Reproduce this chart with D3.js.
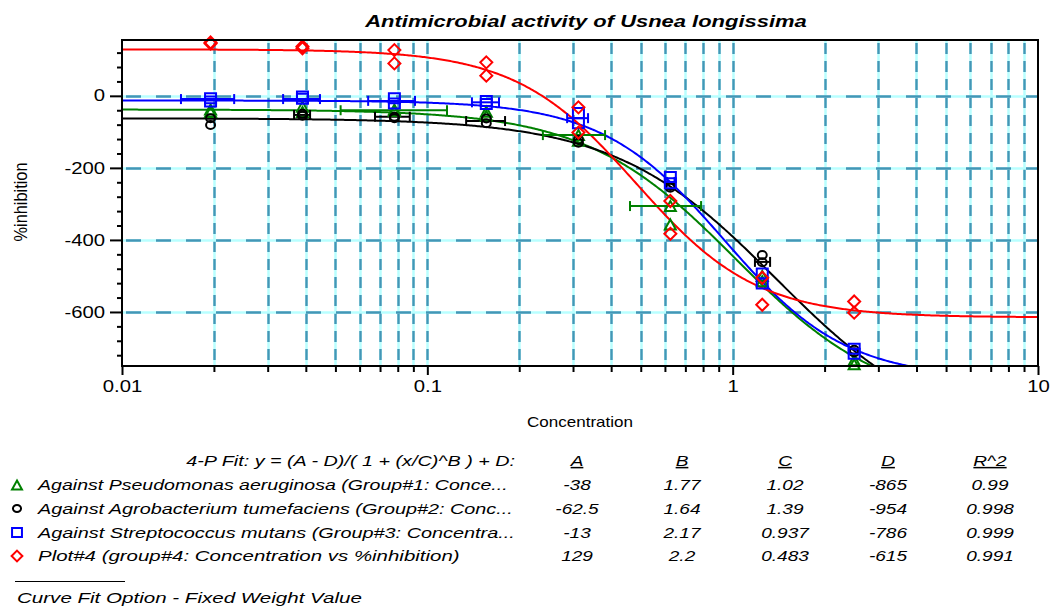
<!DOCTYPE html>
<html>
<head>
<meta charset="utf-8">
<script src="https://cdn.jsdelivr.net/npm/d3@7"></script>
<style>
  html, body { margin: 0; padding: 0; background: #fff; }
  svg { display: block; font-family: "Liberation Sans", Arial, sans-serif; }
</style>
</head>
<body>
<svg id="chart" width="1050" height="606"></svg>
<script>
// ---------------- DATA ----------------
const concentrations = [0.0195, 0.039, 0.078, 0.156, 0.3125, 0.625, 1.25, 2.5];

const seriesNames = [
  "Against Pseudomonas aeruginosa (Group#1: Conce...",
  "Against Agrobacterium tumefaciens (Group#2: Conc...",
  "Against Streptococcus mutans (Group#3: Concentra...",
  "Plot#4 (group#4: Concentration vs %inhibition)"
];
const seriesColors = ["#008000", "#000000", "#0000ff", "#ff0000"];
const seriesShapes = ["triangle", "circle", "square", "diamond"];

// replicate %inhibition readings at each concentration
const pseudomonasRep1 = [-38, -30, -38, -44, -109, -306, -500, -734];
const pseudomonasRep2 = [-45, -45, -42, -55, -125, -357, -515, -745];
const agrobacteriumRep1 = [-62, -50, -58, -63, -122, -250, -442, -705];
const agrobacteriumRep2 = [-81, -55, -62, -76, -130, -255, -462, -712];
const streptococcusRep1 = [-7, -2, -7, -14, -48, -225, -493, -702];
const streptococcusRep2 = [-16, -8, -21, -23, -76, -243, -521, -716];
const plot4Rep1 = [148, 137, 127, 93, -32, -292, -505, -571];
const plot4Rep2 = [145, 132, 90, 56, -102, -383, -580, -602];

// 4-parameter fit results
const fitA = [-38, -62.5, -13, 129];
const fitB = [1.77, 1.64, 2.17, 2.2];
const fitC = [1.02, 1.39, 0.937, 0.483];
const fitD = [-865, -954, -786, -615];
const fitR2 = [0.99, 0.998, 0.999, 0.991];
const fitALabels = ["-38", "-62.5", "-13", "129"];
const fitBLabels = ["1.77", "1.64", "2.17", "2.2"];
const fitCLabels = ["1.02", "1.39", "0.937", "0.483"];
const fitDLabels = ["-865", "-954", "-786", "-615"];
const fitR2Labels = ["0.99", "0.998", "0.999", "0.991"];
const tableHeaders = ["A", "B", "C", "D", "R^2"];

// horizontal (concentration) error bars
const xErrSeries = [2, 2, 1, 2, 1, 0, 1, 2, 2, 0, 0, 1, 2];
const xErrLow    = [0.0156, 0.0337, 0.0366, 0.064, 0.0674, 0.052, 0.134, 0.140, 0.287, 0.239, 0.461, 1.183, 0.61];
const xErrHigh   = [0.0233, 0.0445, 0.0413, 0.0911, 0.0876, 0.116, 0.1797, 0.1717, 0.336, 0.382, 0.788, 1.326, 0.645];
const xErrY      = [-9, -9, -53, -14, -58, -40, -70, -18, -62, -109, -306, -461, -239];

// axis ticks
const xMajorTicks = [0.01, 0.1, 1, 10];
const xTickLabels = ["0.01", "0.1", "1", "10"];
const yMajorTicks = [0, -200, -400, -600];
const yTickLabels = ["0", "-200", "-400", "-600"];

const titleText = "Antimicrobial activity of Usnea longissima";
const xAxisTitle = "Concentration";
const yAxisTitle = "%inhibition";
const fitHeader = "4-P Fit:  y = (A - D)/( 1 + (x/C)^B ) + D:";
const footnote = "Curve Fit Option - Fixed Weight Value";

// ---------------- LAYOUT ----------------
const L = 122, R = 1038, T = 40, B = 366;
const STRETCH = 1.27;   // glyphs in the reference are horizontally widened
const svg = d3.select("#chart");

const x = d3.scaleLog().domain([0.01, 10]).range([L, R]);
const y = d3.scaleLinear().domain([155, -750]).range([T, B]);

svg.append("defs").append("clipPath").attr("id", "plotClip")
  .append("rect").attr("x", L).attr("y", T).attr("width", R - L).attr("height", B - T);

function label(parent, px, py, str, opts, targetW) {
  const t = parent.append("text").attr("x", 0).attr("y", 0).text(str);
  Object.entries(opts || {}).forEach(([k, v]) => t.attr(k, v));
  let s = STRETCH;
  if (targetW) s = targetW / t.node().getComputedTextLength();
  t.attr("transform", `translate(${px},${py}) scale(${s},1)`);
  return t;
}

// ---------------- GRID ----------------
const grid = svg.append("g");
const xGridVals = x.ticks().filter(v => v > 0.0101 && v < 9.99);
const gridLight = "#b8ffff", gridDark = "#4496b6";
grid.selectAll(".vgl").data(xGridVals).join("line")
  .attr("x1", d => Math.round(x(d)) + 0.5).attr("x2", d => Math.round(x(d)) + 0.5)
  .attr("y1", T).attr("y2", B)
  .attr("stroke", gridLight).attr("stroke-width", 2.5);
grid.selectAll(".vgd").data(xGridVals).join("line")
  .attr("x1", d => Math.round(x(d)) + 0.5).attr("x2", d => Math.round(x(d)) + 0.5)
  .attr("y1", T + 3).attr("y2", B)
  .attr("stroke", gridDark).attr("stroke-width", 2.4).attr("stroke-dasharray", "11,7");
grid.selectAll(".hgl").data(yMajorTicks).join("line")
  .attr("x1", L).attr("x2", R)
  .attr("y1", d => Math.round(y(d)) + 0.5).attr("y2", d => Math.round(y(d)) + 0.5)
  .attr("stroke", gridLight).attr("stroke-width", 2.5);
grid.selectAll(".hgd").data(yMajorTicks).join("line")
  .attr("x1", L + 4).attr("x2", R)
  .attr("y1", d => Math.round(y(d)) + 0.5).attr("y2", d => Math.round(y(d)) + 0.5)
  .attr("stroke", gridDark).attr("stroke-width", 2.4).attr("stroke-dasharray", "15,15");

// ---------------- FIT CURVES ----------------
const curveG = svg.append("g").attr("clip-path", "url(#plotClip)");
const sampleX = d3.range(0, 601).map(i => Math.pow(10, -2 + 3 * i / 600));
const line = d3.line().x(d => x(d[0])).y(d => y(d[1]));
[0, 1, 2, 3].forEach(s => {
  const pts = sampleX.map(c => [c, (fitA[s] - fitD[s]) / (1 + Math.pow(c / fitC[s], fitB[s])) + fitD[s]]);
  curveG.append("path").datum(pts).attr("d", line)
    .attr("fill", "none").attr("stroke", seriesColors[s]).attr("stroke-width", 2);
});

// ---------------- ERROR BARS ----------------
const errG = svg.append("g");
xErrSeries.forEach((s, i) => {
  const yy = y(xErrY[i]), x1 = x(xErrLow[i]), x2 = x(xErrHigh[i]);
  const col = seriesColors[s];
  errG.append("line").attr("x1", x1).attr("x2", x2).attr("y1", yy).attr("y2", yy)
    .attr("stroke", col).attr("stroke-width", 2);
  [x1, x2].forEach(xx => errG.append("line").attr("x1", xx).attr("x2", xx)
    .attr("y1", yy - 5).attr("y2", yy + 5).attr("stroke", col).attr("stroke-width", 2));
});

// ---------------- MARKERS ----------------
function shapePath(shape, cx, cy, k) {
  k = k || 1;
  if (shape === "triangle") {
    const w = 5.5 * k, h = 5 * k;
    return `M${cx},${cy - h}L${cx + w},${cy + h}L${cx - w},${cy + h}Z`;
  }
  if (shape === "square") {
    const w = 5.5 * k, h = 5 * k;
    return `M${cx - w},${cy - h}H${cx + w}V${cy + h}H${cx - w}Z`;
  }
  if (shape === "diamond") {
    const w = 6 * k, h = 6 * k;
    return `M${cx},${cy - h}L${cx + w},${cy}L${cx},${cy + h}L${cx - w},${cy}Z`;
  }
  const rx = 4.5 * k, ry = 4 * k;
  return `M${cx - rx},${cy}A${rx},${ry} 0 1,0 ${cx + rx},${cy}A${rx},${ry} 0 1,0 ${cx - rx},${cy}Z`;
}
const replicateSets = [
  [pseudomonasRep1, pseudomonasRep2],
  [agrobacteriumRep1, agrobacteriumRep2],
  [streptococcusRep1, streptococcusRep2],
  [plot4Rep1, plot4Rep2]
];
const markG = svg.append("g");
[0, 1, 2, 3].forEach(s => {
  const pts = [];
  replicateSets[s].forEach(rep => rep.forEach((v, i) => pts.push([concentrations[i], v])));
  markG.selectAll(null).data(pts).join("path")
    .attr("d", d => shapePath(seriesShapes[s], x(d[0]), y(d[1])))
    .attr("fill", "none").attr("stroke", seriesColors[s]).attr("stroke-width", 2);
});

// ---------------- AXES ----------------
const axG = svg.append("g");
axG.append("rect").attr("x", L).attr("y", T).attr("width", R - L).attr("height", B - T)
  .attr("fill", "none").attr("stroke", "#000").attr("stroke-width", 2);

const xAxis = d3.axisBottom(x).tickValues(xMajorTicks)
  .tickFormat((d, i) => xTickLabels[i]).tickSize(9).tickPadding(6);
const gx = axG.append("g").attr("transform", `translate(0,${B})`).call(xAxis);
gx.select(".domain").remove();
gx.selectAll(".tick line").attr("stroke-width", 2);
gx.selectAll(".tick text").each(function () {
  const t = d3.select(this);
  const yy = +t.attr("y");
  t.attr("font-size", 16).attr("fill", "#000").attr("y", 0)
    .attr("font-family", "Liberation Sans, Arial, sans-serif")
    .attr("transform", `translate(0,${yy}) scale(${STRETCH},1)`);
});
const xMinor = x.ticks().filter(v => !xMajorTicks.some(m => Math.abs(m - v) < 1e-9));
const gxm = axG.append("g").attr("transform", `translate(0,${B})`)
  .call(d3.axisBottom(x).tickValues(xMinor).tickFormat("").tickSize(6));
gxm.select(".domain").remove();
gxm.selectAll(".tick line").attr("stroke-width", 2);

const yAxis = d3.axisLeft(y).tickValues(yMajorTicks)
  .tickFormat((d, i) => yTickLabels[i]).tickSize(12).tickPadding(5);
const gy = axG.append("g").attr("transform", `translate(${L},0)`).call(yAxis);
gy.select(".domain").remove();
gy.selectAll(".tick line").attr("stroke-width", 2);
gy.selectAll(".tick text").each(function () {
  const t = d3.select(this);
  const xx = +t.attr("x");
  t.attr("font-size", 16).attr("fill", "#000").attr("x", 0)
    .attr("font-family", "Liberation Sans, Arial, sans-serif")
    .attr("transform", `translate(${xx},0) scale(${STRETCH},1)`);
});
const yMinor = d3.range(-720, 155, 40).filter(v => v % 200 !== 0);
const gym = axG.append("g").attr("transform", `translate(${L},0)`)
  .call(d3.axisLeft(y).tickValues(yMinor).tickFormat("").tickSize(5));
gym.select(".domain").remove();
gym.selectAll(".tick line").attr("stroke-width", 2);

// ---------------- TITLES ----------------
label(svg, 586, 27, titleText, {"text-anchor": "middle", "font-size": 16.5,
  "font-weight": "bold", "font-style": "italic"}, 442);
label(svg, 580, 427, xAxisTitle, {"text-anchor": "middle", "font-size": 14}, 106);
{
  const t = svg.append("text").attr("text-anchor", "middle").attr("font-size", 15).text(yAxisTitle);
  const s = 79 / t.node().getComputedTextLength();
  t.attr("transform", `translate(26.5,202) rotate(-90) scale(${s},${STRETCH})`);
}

// ---------------- LEGEND / FIT TABLE ----------------
const lg = svg.append("g").attr("font-style", "italic").attr("font-size", 15).attr("fill", "#000");
label(lg, 515, 466, fitHeader, {"text-anchor": "end"}, 329);
const colX = [577, 682, 785, 888, 990];
tableHeaders.forEach((h, j) => {
  label(lg, colX[j], 466, h, {"text-anchor": "middle", "text-decoration": "underline"});
});
const rowY = [490, 513.5, 537.5, 561];
const rowTextLen = [470, 475, 477, 422];
const colLabels = [fitALabels, fitBLabels, fitCLabels, fitDLabels, fitR2Labels];
seriesNames.forEach((name, i) => {
  label(lg, 38, rowY[i], name, {}, rowTextLen[i]);
  colLabels.forEach((labels, j) => {
    label(lg, colX[j], rowY[i], labels[i], {"text-anchor": "middle"});
  });
  lg.append("path").attr("d", shapePath(seriesShapes[i], 17, rowY[i] - 5, 0.9))
    .attr("fill", "none").attr("stroke", seriesColors[i]).attr("stroke-width", 2);
});
lg.append("line").attr("x1", 15).attr("x2", 125).attr("y1", 581.5).attr("y2", 581.5)
  .attr("stroke", "#000").attr("stroke-width", 1);
label(lg, 17, 603, footnote, {}, 345);
</script>
</body>
</html>
